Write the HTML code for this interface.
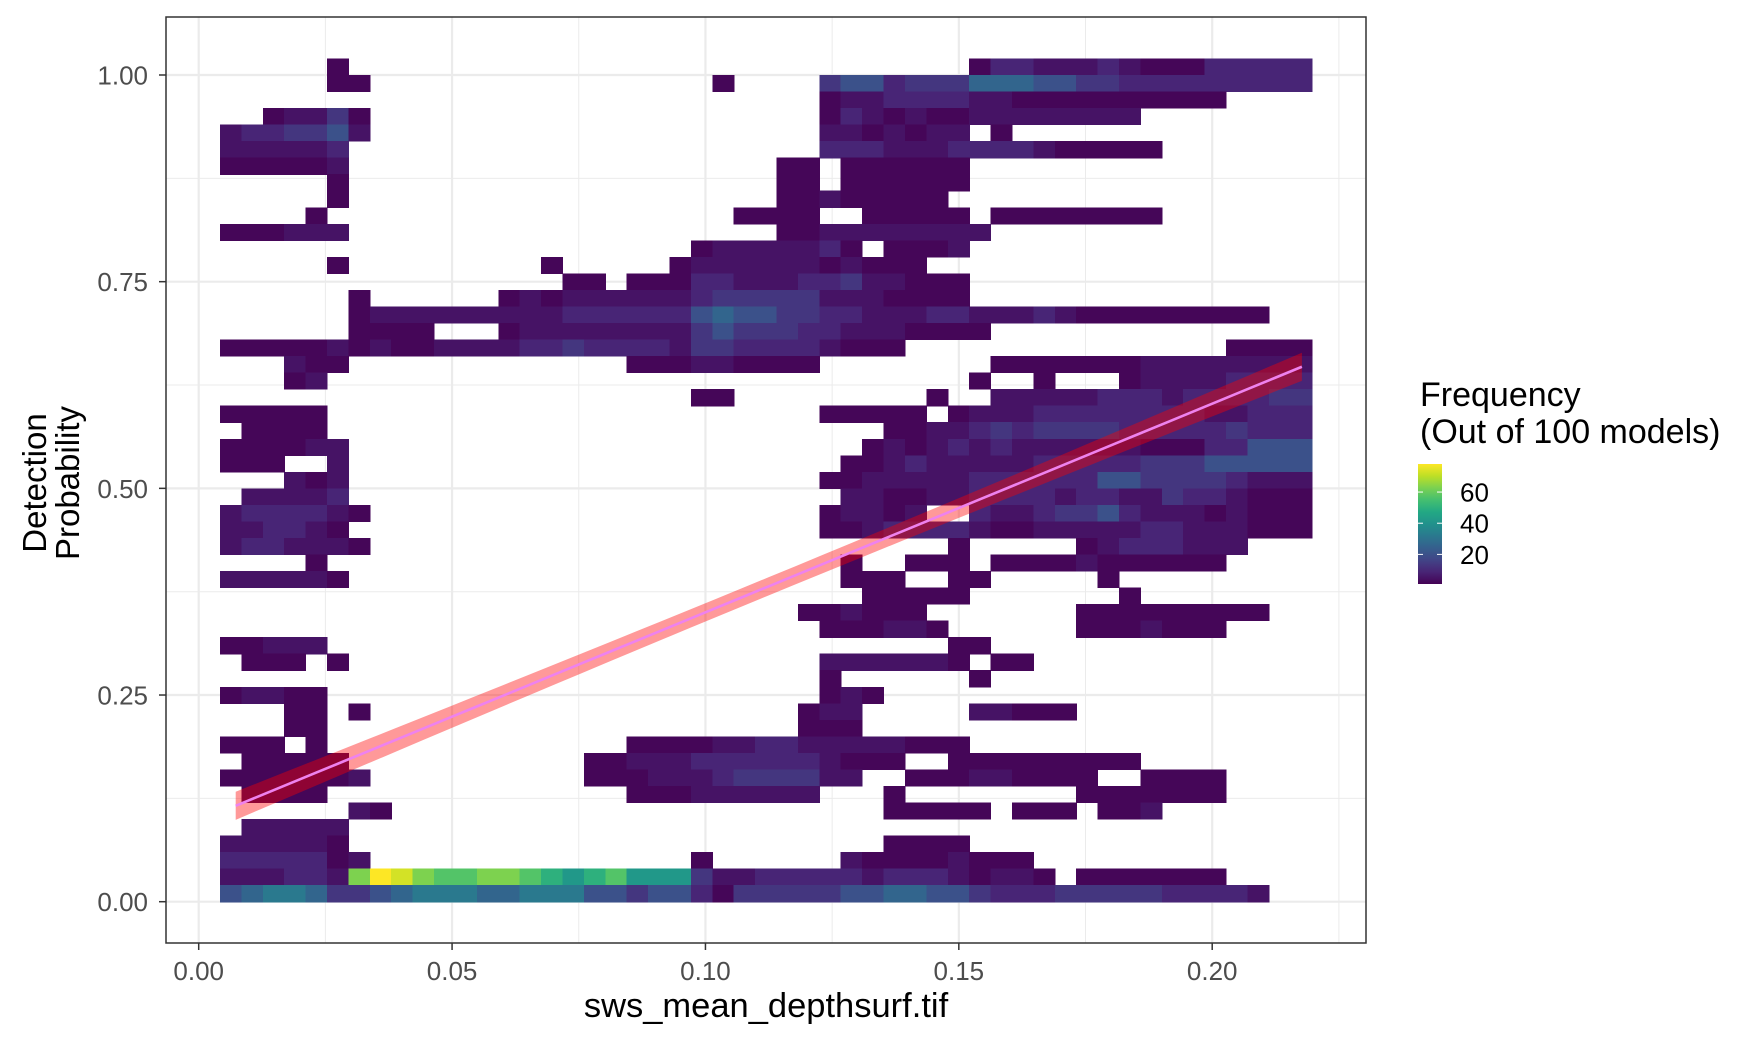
<!DOCTYPE html>
<html><head><meta charset="utf-8"><style>
html,body{margin:0;padding:0;background:#fff;}
svg{display:block;font-family:"Liberation Sans",Arial,sans-serif;}
</style></head><body>
<svg id="chart" width="1760" height="1044" viewBox="0 0 1760 1044" xmlns="http://www.w3.org/2000/svg">
<rect x="0" y="0" width="1760" height="1044" fill="#fff"/>
<g id="grid"></g>
<g id="cells" shape-rendering="crispEdges"></g>
<g id="trend"></g>
<rect x="166" y="17" width="1200" height="926" fill="none" stroke="#333" stroke-width="1.5"/>
<g id="axes"></g>
<text x="766" y="1017" font-size="34.5" text-anchor="middle" fill="#000">sws_mean_depthsurf.tif</text>
<g>
<text transform="translate(46,483) rotate(-90)" font-size="33" text-anchor="middle" fill="#000">Detection</text>
<text transform="translate(79,483) rotate(-90)" font-size="33" text-anchor="middle" fill="#000">Probability</text>
</g>
<g id="legend">
<text x="1420" y="406" font-size="34" fill="#000">Frequency</text>
<text x="1420" y="443" font-size="34" fill="#000">(Out of 100 models)</text>
<defs><linearGradient id="vgrad" x1="0" y1="1" x2="0" y2="0"></linearGradient></defs>
<rect x="1418" y="464" width="24" height="120" fill="url(#vgrad)"/>
</g>
</svg>
<script>
// ---------- data ----------
const codeValues = {"1":2,"2":5,"3":9,"4":13,"5":20,"6":26,"7":32,"8":42,"9":50,"a":57,"b":63,"c":68,"d":73,"e":78};
const binX0 = 0.0042;
const binW = 0.004224;
const binH = 0.02;
// rows from top (y bin 50) to bottom (y bin 0), 51 columns each
const gridRows = [
".....1..........."+"................."+".1332223211133333",
".....11.........."+"......1....455344"+"46665544333333333",
"................."+"...........122333"+"3221111111111....",
"..12241.........."+"...........132121"+"122222222........",
"2334452.........."+"...........221212"+"2.1..............",
"222223..........."+"...........333222"+"3333211111.......",
"111112..........."+".........11.11111"+"1................",
".....1..........."+".........11.11111"+"1................",
".....1..........."+".........11211111"+".................",
"....1............"+".......1111..1111"+"1.11111111.......",
"111222..........."+".........11222222"+"22...............",
"................."+".....12222231.111"+"2................",
".....1.........1."+"....122222212111."+".................",
"................1"+"1.111332223342211"+"1................",
"......1......1212"+"22222344444222111"+"1................",
"......12222222223"+"33333565544332223"+"322232111111111..",
"......1111...1222"+"22222454443322211"+"11...............",
"11111212112222334"+"333324433332111.."+".............1111",
"...211..........."+"..111221111......"+"..111111122222222",
"...12............"+"................."+".1..1...122223333",
"................."+".....11.........1"+"..222223332333344",
"11111............"+"...........11111."+"12223333333322333",
".1111............"+"..............112"+"23434444333334333",
"111122..........."+".............1212"+"32322222211133555",
"111..2..........."+"............11232"+"22223333344455555",
"...212..........."+"...........112222"+"23333335544443222",
".22223..........."+"............22112"+"23333233224332111",
"2333321.........."+"...........12212."+".3223445322212111",
"223321..........."+"...........112333"+"32112222233222111",
"2332221.........."+"................."+"1.....12333222...",
"....1............"+"............1..11"+"1.11112111111....",
"222221..........."+"............111.."+"11.....1.........",
"................."+".............1111"+"1.......1........",
"................."+"..........112111."+"......111111111..",
"................."+"...........111221"+"......1112111....",
"11222............"+"................."+"11...............",
".111.1..........."+"...........222222"+"1.11.............",
"................."+"...........1....."+".1...............",
"12211............"+"...........121..."+".................",
"...11.1.........."+"..........122...."+".22111...........",
"...11............"+"..........111...."+".................",
"111.1............"+"..111122332222211"+"1................",
".11111..........."+"112223333332111.."+"111111111........",
"1111112.........."+"1112223444422..11"+"1221111..1111....",
".1111............"+"..111222222...1.."+"......1111111....",
"......21........."+"..............111"+"11.111.112.......",
".22222..........."+"................."+".................",
"222221..........."+"..............111"+"1................",
"3333312.........."+".....1......21111"+"2111.............",
"222332bedbaabba98"+"9a888422333332333"+"21221.1111111....",
"56776445677766777"+"55455314444455665"+"543334444433332.."
];
const xTicks = [0.00, 0.05, 0.10, 0.15, 0.20];
const xTickLabels = ["0.00","0.05","0.10","0.15","0.20"];
const yTicks = [0.00, 0.25, 0.50, 0.75, 1.00];
const yTickLabels = ["0.00","0.25","0.50","0.75","1.00"];
const legendTicks = [20, 40, 60];
const legendTickLabels = ["20","40","60"];
const trendXRange = [0.0073, 0.2177];
const trendCoef = [0.0976, 2.524];   // intercept, slope
const trendSE = [0.000121, 0.01524, 0.1125]; // a, b, center
const colorLimits = [1, 78];

// ---------- scales ----------
const NS = "http://www.w3.org/2000/svg";
function sx(v){ return 198.7 + v * 5067.5; }
function sy(v){ return 901.7 - v * 826.7; }
const vstops = ["#440154","#482475","#414487","#355f8d","#2a788e","#21918c","#22a884","#44bf70","#7ad151","#bddf26","#fde725"];
function hex(h){ return [parseInt(h.substr(1,2),16),parseInt(h.substr(3,2),16),parseInt(h.substr(5,2),16)]; }
function viridis(t){
  t = Math.max(0, Math.min(1, t));
  const p = t * (vstops.length - 1), i = Math.min(Math.floor(p), vstops.length - 2), f = p - i;
  const a = hex(vstops[i]), b = hex(vstops[i+1]);
  return "rgb(" + a.map((c,k)=>Math.round(c + (b[k]-c)*f)).join(",") + ")";
}
function colorOf(v){ return viridis((v - colorLimits[0]) / (colorLimits[1] - colorLimits[0])); }
function mk(tag, attrs, parent){ const e = document.createElementNS(NS, tag); for (const k in attrs) e.setAttribute(k, attrs[k]); parent.appendChild(e); return e; }

// ---------- grid ----------
const grid = document.getElementById("grid");
const L = 166, R = 1366, T = 17, B = 943;
[0.125,0.375,0.625,0.875].forEach(v => {
  const ln = mk("line", {x1:L, x2:R, y1:sy(v), y2:sy(v), stroke:"#ebebeb", "stroke-width":1}, grid);
  
  
});
[0.025,0.075,0.125,0.175,0.225].forEach(v => {
  const ln = mk("line", {x1:sx(v), x2:sx(v), y1:T, y2:B, stroke:"#ebebeb", "stroke-width":1}, grid);
  
  
});
yTicks.forEach(v => {
  const ln = mk("line", {x1:L, x2:R, y1:sy(v), y2:sy(v), stroke:"#ebebeb", "stroke-width":2.2}, grid);
  
  
});
xTicks.forEach(v => {
  const ln = mk("line", {x1:sx(v), x2:sx(v), y1:T, y2:B, stroke:"#ebebeb", "stroke-width":2.2}, grid);
  
  
});

// ---------- cells ----------
const cells = document.getElementById("cells");
const nRows = gridRows.length;
gridRows.forEach((row, j) => {
  const k = nRows - 1 - j;
  for (let i = 0; i < row.length; i++) {
    const c = row[i];
    if (c === ".") continue;
    const v = codeValues[c];
    const x0 = sx(binX0 + i * binW), x1 = sx(binX0 + (i + 1) * binW);
    const y1 = sy(k * binH), y0 = sy((k + 1) * binH);
    const r = mk("rect", {x:x0.toFixed(2), y:y0.toFixed(2), width:(x1 - x0 + 0.6).toFixed(2), height:(y1 - y0 + 0.6).toFixed(2), fill:colorOf(v)}, cells);
    
    
  }
});

// ---------- trend ----------
const trend = document.getElementById("trend");
function fit(x){ return trendCoef[0] + trendCoef[1] * x; }
function se(x){ return Math.sqrt(trendSE[0] + trendSE[1] * Math.pow(x - trendSE[2], 2)); }
let up = [], lo = [], mid = [];
const N = 40;
for (let s = 0; s <= N; s++) {
  const x = trendXRange[0] + (trendXRange[1] - trendXRange[0]) * s / N;
  up.push(sx(x).toFixed(2) + "," + sy(fit(x) + se(x)).toFixed(2));
  lo.push(sx(x).toFixed(2) + "," + sy(fit(x) - se(x)).toFixed(2));
  mid.push(sx(x).toFixed(2) + "," + sy(fit(x)).toFixed(2));
}
const rib = mk("polygon", {points: up.concat(lo.reverse()).join(" "), fill:"rgba(255,0,0,0.4)"}, trend);


const tl = mk("polyline", {points: mid.join(" "), fill:"none", stroke:"#ee82ee", "stroke-width":2.6}, trend);



// ---------- axes ----------
const axes = document.getElementById("axes");
xTicks.forEach((v, i) => {
  const t = mk("line", {x1:sx(v), x2:sx(v), y1:B, y2:B + 7, stroke:"#333", "stroke-width":1.5}, axes);
  
  
  const lb = mk("text", {x:sx(v), y:980, "font-size":26, "text-anchor":"middle", fill:"#4d4d4d"}, axes);
  lb.textContent = xTickLabels[i];
  
  
});
yTicks.forEach((v, i) => {
  const t = mk("line", {x1:L - 7, x2:L, y1:sy(v), y2:sy(v), stroke:"#333", "stroke-width":1.5}, axes);
  
  
  const lb = mk("text", {x:148, y:sy(v) + 9.5, "font-size":26, "text-anchor":"end", fill:"#4d4d4d"}, axes);
  lb.textContent = yTickLabels[i];
  
  
});

// ---------- legend ----------
const grad = document.getElementById("vgrad");
for (let s = 0; s <= 20; s++) {
  mk("stop", {offset:(s / 20).toFixed(3), "stop-color":viridis(s / 20)}, grad);
}
const legend = document.getElementById("legend");
const barTop = 464, barBot = 584;
function ly(v){ return barBot - (v - colorLimits[0]) / (colorLimits[1] - colorLimits[0]) * (barBot - barTop); }
legendTicks.forEach((v, i) => {
  const y = ly(v);
  const a = mk("line", {x1:1418, x2:1423, y1:y, y2:y, stroke:"#fff", "stroke-width":1}, legend);
  
  
  const b = mk("line", {x1:1437, x2:1442, y1:y, y2:y, stroke:"#fff", "stroke-width":1}, legend);
  
  
  const lb = mk("text", {x:1460, y:y + 9.5, "font-size":26, fill:"#000"}, legend);
  lb.textContent = legendTickLabels[i];
  
  
});
</script>
</body></html>
